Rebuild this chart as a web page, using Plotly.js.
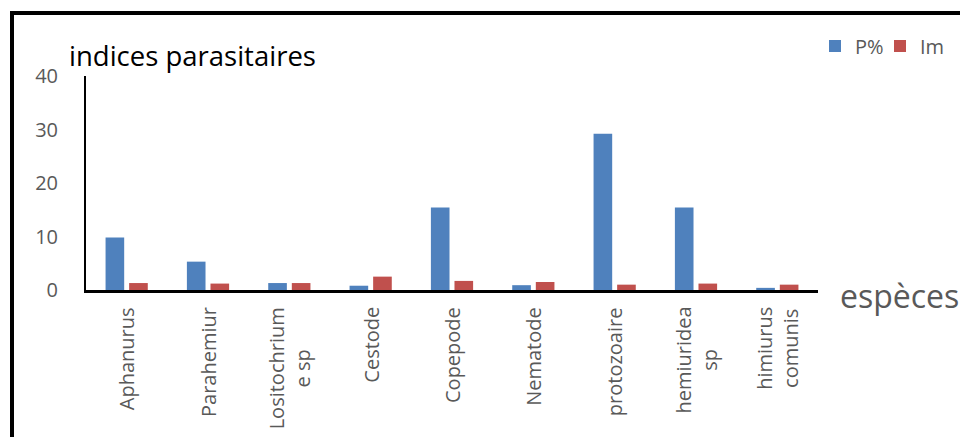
<!DOCTYPE html>
<html>
<head>
<meta charset="utf-8">
<script src="https://cdn.plot.ly/plotly-3.0.1.min.js"></script>
<style>
  html, body { margin: 0; padding: 0; background: #fff; }
  #wrap { position: relative; width: 960px; height: 437px; overflow: hidden; }
  #chart { position: absolute; left: 0; top: 0; width: 960px; height: 437px; }
  /* outer frame around the chart area, open to the right and bottom */
  #frame {
    position: absolute; left: 10px; top: 11px; width: 1000px; height: 500px;
    border-left: 4px solid #000; border-top: 4px solid #000; pointer-events: none;
  }
</style>
</head>
<body>
<div id="wrap">
  <div id="chart"></div>
  <div id="frame"></div>
</div>
<script>
// Parasite species and their indices
const categories = ["Aphanurus", "Parahemiur", "Lositochrium e sp", "Cestode", "Copepode",
                    "Nematode", "protozoaire", "hemiuridea sp", "himiurus comunis"];
const tickLabels = ["Aphanurus", "Parahemiur", "Lositochrium<br>e sp", "Cestode", "Copepode",
                    "Nematode", "protozoaire", "hemiuridea<br>sp", "himiurus<br>comunis"];
const prevalence = [9.8, 5.3, 1.3, 0.8, 15.4, 0.9, 29.2, 15.4, 0.4];   // P%
const intensity  = [1.3, 1.2, 1.3, 2.5, 1.7, 1.5, 1.0, 1.2, 1.0];      // Im
const seriesNames = ["P%", "Im"];
const yTicks = [0, 10, 20, 30, 40];

const FONT = "'Open Sans', 'Noto Sans', sans-serif";
const GREY = "#595959";

const traces = [
  { type: "bar", name: seriesNames[0], x: categories, y: prevalence,
    marker: { color: "#4F81BD" } },
  { type: "bar", name: seriesNames[1], x: categories, y: intensity,
    marker: { color: "#C0504D" } }
];

// Rotated category labels, lines centred on each other
const labelAnnotations = categories.map((c, i) => ({
  x: c, xref: "x", y: 0, yref: "paper",
  text: tickLabels[i], showarrow: false, textangle: -90,
  xanchor: "center", yanchor: "top", yshift: -15, align: "center",
  font: { family: FONT, size: 20, color: GREY }
}));

const layout = {
  width: 960, height: 437,
  margin: { l: 86, r: 142, t: 76, b: 146.5, pad: 0 },
  paper_bgcolor: "#fff", plot_bgcolor: "#fff",
  font: { family: FONT, color: GREY },
  title: {
    text: "indices parasitaires",
    font: { family: FONT, size: 27.5, color: "#000" },
    xref: "container", x: 69 / 960, xanchor: "left",
    yref: "container", y: 1 - 56 / 437, yanchor: "middle"
  },
  barmode: "group", bargap: 0.42, bargroupgap: 0.21,
  xaxis: {
    type: "category", showticklabels: false, ticks: "",
    showline: true, linecolor: "#000", linewidth: 2.5,
    showgrid: false, zeroline: false, fixedrange: true
  },
  yaxis: {
    range: [0, 40], tickvals: yTicks, ticktext: yTicks.map(String),
    ticks: "", ticklabelstandoff: 22,
    tickfont: { family: FONT, size: 20, color: GREY },
    showline: true, linecolor: "#000", linewidth: 2,
    showgrid: false, zeroline: false, fixedrange: true
  },
  showlegend: true,
  legend: {
    orientation: "h", xref: "container", yref: "container",
    x: 815 / 960, xanchor: "left", y: 1 - 46 / 437, yanchor: "middle",
    font: { family: FONT, size: 20, color: GREY },
    itemwidth: 30, entrywidth: 20, tracegroupgap: 0, bgcolor: "rgba(0,0,0,0)"
  },
  annotations: labelAnnotations.concat([{
    text: "espèces", showarrow: false,
    xref: "paper", x: 1, xshift: 20, xanchor: "left",
    yref: "paper", y: 0, yshift: -5, yanchor: "middle",
    font: { family: FONT, size: 32, color: GREY }
  }])
};

Plotly.newPlot("chart", traces, layout, { displayModeBar: false, staticPlot: true });
</script>
</body>
</html>
